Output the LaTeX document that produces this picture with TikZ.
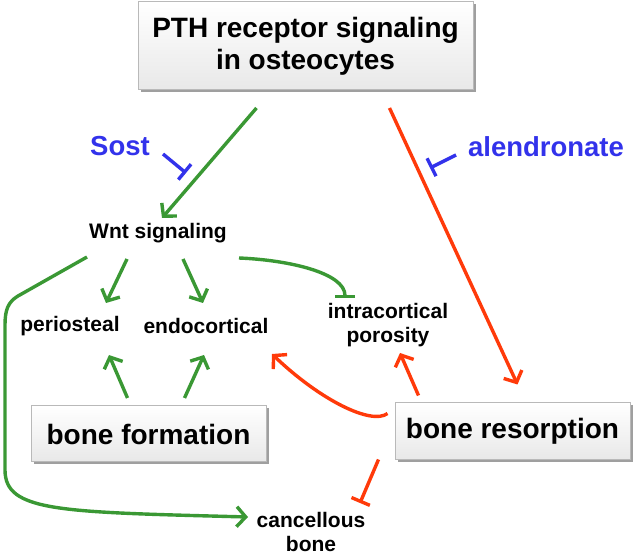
\documentclass[tikz,border=0pt]{standalone}
\usepackage{fontspec}
\setmainfont{Liberation Sans}
\usetikzlibrary{arrows.meta,shadows}
\definecolor{grn}{RGB}{58,152,52}
\definecolor{rd}{RGB}{255,58,10}
\definecolor{blu}{RGB}{50,50,235}
\begin{document}
\begin{tikzpicture}[x=1pt,y=-1pt,
  lbl/.style={font=\bfseries\fontsize{21}{24}\selectfont, inner sep=0pt, align=center},
  drug/.style={font=\bfseries\fontsize{27.5}{32}\selectfont, text=blu, inner sep=0pt},
  bevel/.style={draw=gray!55, line width=1pt, top color=white, bottom color=gray!18,
    drop shadow={shadow xshift=2.5pt, shadow yshift=-2.5pt, fill=gray!75, opacity=1},
    font=\bfseries\fontsize{28}{32}\selectfont, align=center, inner sep=0pt},
  act/.style={line width=3.4pt, -{Straight Barb[length=9pt,width=20pt]}},
  inh/.style={line width=3.4pt, -{Bar[width=20pt]}},
  green/.style={draw=grn}, red/.style={draw=rd}, blue/.style={draw=blu}]
\useasboundingbox (0,0) rectangle (633,556);
% nodes
\node[bevel, minimum width=335pt, minimum height=88pt] (top) at (305.5,46) {PTH receptor signaling\\in osteocytes};
\node[bevel, minimum width=235pt, minimum height=56pt] (bform) at (148.5,434) {bone formation};
\node[bevel, minimum width=235pt, minimum height=57pt] (bres) at (512.5,431.5) {bone resorption};
\node[drug] (sost) at (120,146) {Sost};
\node[drug] (alend) at (546,147) {alendronate};
\node[lbl] (wnt) at (158,233) {Wnt signaling};
\node[lbl] (peri) at (70,326) {periosteal};
\node[lbl] (endo) at (206,326) {endocortical};
\node[lbl] (intra) at (388,325) {intracortical\\porosity};
\node[lbl] (canc) at (311,532) {cancellous\\bone};
% inhibitor targets
\coordinate (sostbar) at (186,173);
\coordinate (alendbar) at (430,168);
% connectors
\draw[act, green] ([shift={(-49,62)}]top.center) -- ([shift={(4,-15)}]wnt.center);
\draw[act, red] ([shift={(84,62)}]top.center) -- ([shift={(5,-47)}]bres.center);
\draw[inh, blue] ([shift={(43,8)}]sost.center) -- (sostbar);
\draw[inh, blue] ([shift={(-90,8)}]alend.center) -- (alendbar);
\draw[act, green] ([shift={(-31,26)}]wnt.center) -- ([shift={(36,-23)}]peri.center);
\draw[act, green] ([shift={(25,26)}]wnt.center) -- ([shift={(-3,-23)}]endo.center);
\draw[inh, green] ([shift={(81,25)}]wnt.center) .. controls +(50,2) and +(0,-25) .. ([shift={(-43,-27)}]intra.center);
\draw[act, green, line join=round] ([shift={(-71,24)}]wnt.center) -- (18,296)
  .. controls (8,302) and (5,310) .. (5,325) -- (5,470)
  .. controls (5,512) and (60,512) .. ([shift={(-63,-15)}]canc.center);
\draw[act, green] ([shift={(-21,-36)}]bform.center) -- ([shift={(39,29)}]peri.center);
\draw[act, green] ([shift={(36,-36)}]bform.center) -- ([shift={(-2,29)}]endo.center);
\draw[act, red] ([shift={(-125,-18)}]bres.center) .. controls +(-16,12) and +(48,46) .. ([shift={(66,28)}]endo.center);
\draw[act, red] ([shift={(-94,-36)}]bres.center) -- ([shift={(12,28)}]intra.center);
\draw[inh, red] ([shift={(-134,28)}]bres.center) -- ([shift={(49,-29)}]canc.center);
\end{tikzpicture}
\end{document}
